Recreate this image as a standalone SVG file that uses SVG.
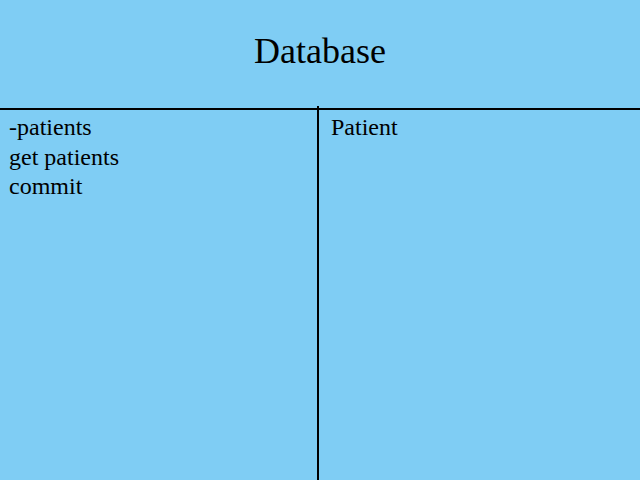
<svg xmlns="http://www.w3.org/2000/svg" width="640" height="480" viewBox="0 0 640 480">
<style>
text{font-family:"Liberation Serif","Times New Roman",serif;fill:#000}
.t{font-size:24px}
.ln{stroke:#000;stroke-width:2;fill:none}
</style>
<rect id="bg" x="0" y="0" width="640" height="480" fill="#7fcdf4"/>
<g id="title"><text x="320" y="63" font-size="36" text-anchor="middle">Database</text></g>
<g id="connectors">
<line class="ln" x1="0" y1="109" x2="640" y2="109"/>
<line class="ln" x1="318" y1="106" x2="318" y2="480"/>
</g>
<g id="responsibilities">
<text class="t" x="9" y="135">-patients</text>
<text class="t" x="9" y="165">get patients</text>
<text class="t" x="9" y="194">commit</text>
</g>
<g id="collaborators"><text class="t" x="331" y="135">Patient</text></g>
</svg>
